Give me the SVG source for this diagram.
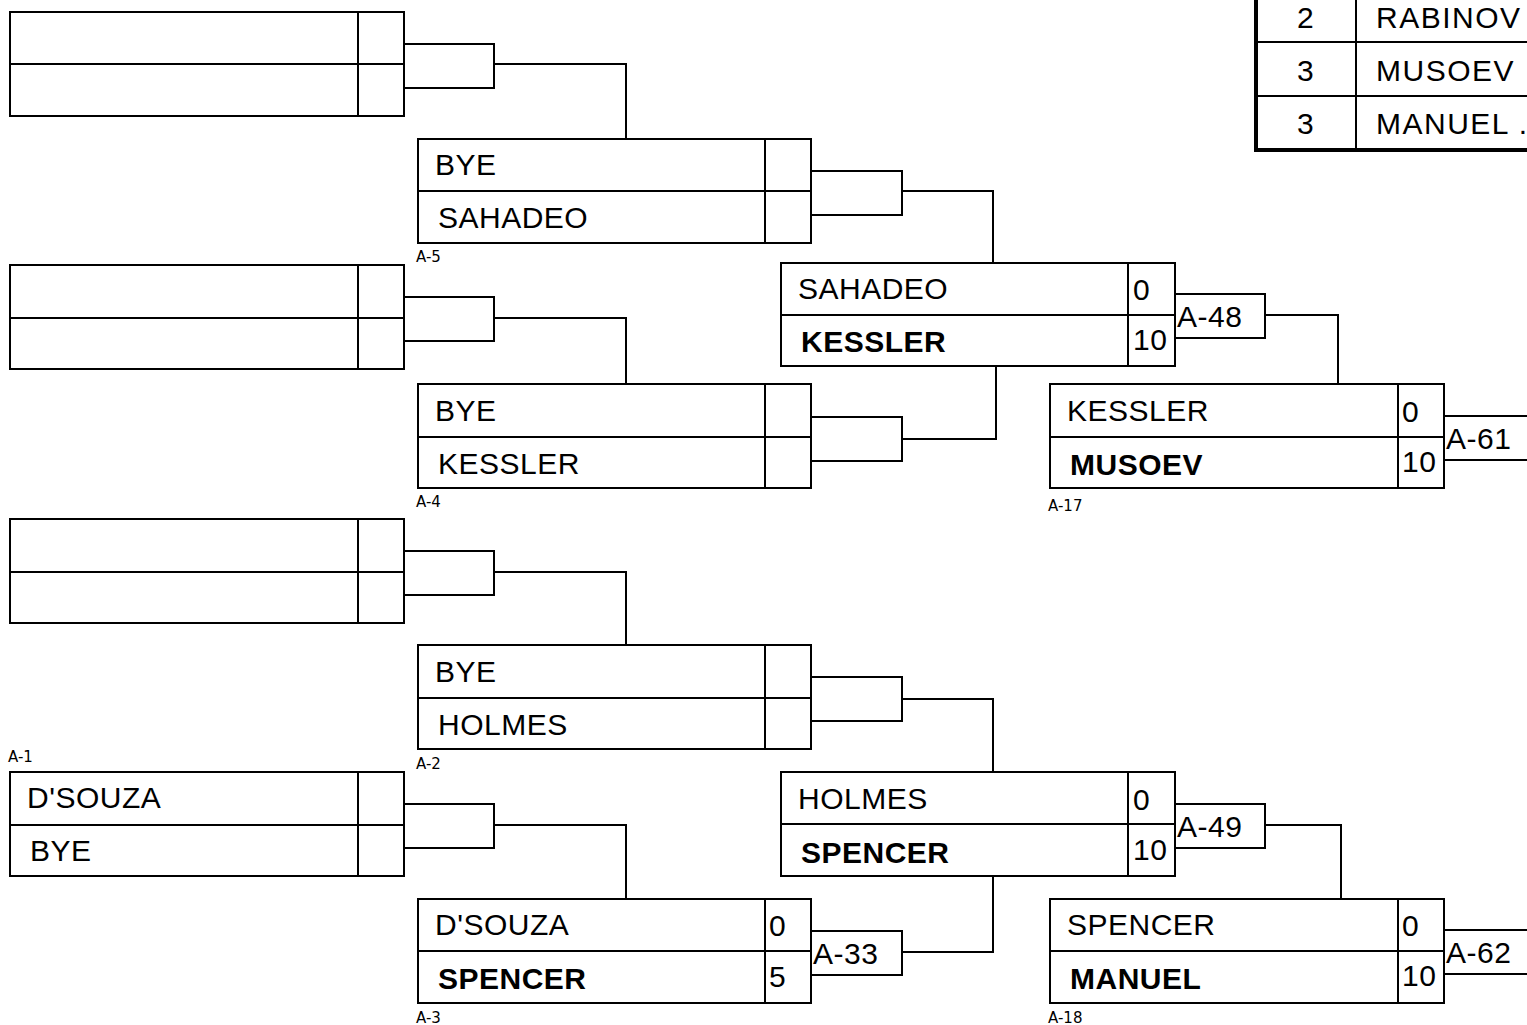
<svg xmlns="http://www.w3.org/2000/svg" width="1527" height="1025" viewBox="0 0 1527 1025">
<style>
.bx{fill:#fff;stroke:#000;stroke-width:2}
.ln{fill:none;stroke:#000;stroke-width:2}
.br{fill:#fff;stroke:#000;stroke-width:2}
.nm{font-family:"Liberation Sans",Arial,sans-serif;font-size:30px;letter-spacing:0.5px;fill:#000}
.b{font-weight:bold}
.sc{font-family:"Liberation Sans",Arial,sans-serif;font-size:30px;letter-spacing:0.5px;fill:#000}
.lb{font-family:"DejaVu Sans",sans-serif;font-size:15px;fill:#000}
.tb{font-family:"Liberation Sans",Arial,sans-serif;font-size:30px;letter-spacing:1.5px;fill:#000}
</style>
<rect width="1527" height="1025" fill="#fff"/>

<g id="connectors">
<path class="ln" d="M494,64 H626 V139"/>
<path class="ln" d="M494,318 H626 V384"/>
<path class="ln" d="M494,572 H626 V645"/>
<path class="ln" d="M494,825 H626 V899"/>
<path class="ln" d="M902,191 H993 V263"/>
<path class="ln" d="M902,439 H996 V366"/>
<path class="ln" d="M902,699 H993 V772"/>
<path class="ln" d="M902,952 H993 V876"/>
<path class="ln" d="M1265,315 H1338 V384"/>
<path class="ln" d="M1265,825 H1341 V899"/>
</g>

<g id="box-L1">
<rect class="bx" x="10" y="12" width="394" height="104"/>
<path class="ln" d="M358,12 V116 M10,64 H404"/>
<rect class="br" x="404" y="44" width="90" height="44"/>
</g>

<g id="box-L2">
<rect class="bx" x="10" y="265" width="394" height="104"/>
<path class="ln" d="M358,265 V369 M10,318 H404"/>
<rect class="br" x="404" y="297" width="90" height="44"/>
</g>

<g id="box-L3">
<rect class="bx" x="10" y="519" width="394" height="104"/>
<path class="ln" d="M358,519 V623 M10,572 H404"/>
<rect class="br" x="404" y="551" width="90" height="44"/>
</g>

<g id="match-A-1">
<rect class="bx" x="10" y="772" width="394" height="104"/>
<path class="ln" d="M358,772 V876 M10,825 H404"/>
<rect class="br" x="404" y="804" width="90" height="44"/>
<text class="nm" x="27" y="808">D'SOUZA</text>
<text class="nm" x="30" y="861">BYE</text>
<text class="lb" x="8" y="762">A-1</text>
</g>

<g id="match-A-5">
<rect class="bx" x="418" y="139" width="393" height="104"/>
<path class="ln" d="M765,139 V243 M418,191 H811"/>
<rect class="br" x="811" y="171" width="91" height="44"/>
<text class="nm" x="435" y="175">BYE</text>
<text class="nm" x="438" y="228">SAHADEO</text>
<text class="lb" x="416" y="262">A-5</text>
</g>

<g id="match-A-4">
<rect class="bx" x="418" y="384" width="393" height="104"/>
<path class="ln" d="M765,384 V488 M418,437 H811"/>
<rect class="br" x="811" y="417" width="91" height="44"/>
<text class="nm" x="435" y="421">BYE</text>
<text class="nm" x="438" y="474">KESSLER</text>
<text class="lb" x="416" y="507">A-4</text>
</g>

<g id="match-A-2">
<rect class="bx" x="418" y="645" width="393" height="104"/>
<path class="ln" d="M765,645 V749 M418,698 H811"/>
<rect class="br" x="811" y="677" width="91" height="44"/>
<text class="nm" x="435" y="682">BYE</text>
<text class="nm" x="438" y="735">HOLMES</text>
<text class="lb" x="416" y="769">A-2</text>
</g>

<g id="match-A-3">
<rect class="bx" x="418" y="899" width="393" height="104"/>
<path class="ln" d="M765,899 V1003 M418,951 H811"/>
<rect class="br" x="811" y="931" width="91" height="44"/>
<text class="nm" x="435" y="935">D'SOUZA</text>
<text class="nm b" x="438" y="989">SPENCER</text>
<text class="sc" x="769" y="936">0</text>
<text class="sc" x="769" y="987">5</text>
<text class="sc" x="813" y="964">A-33</text>
<text class="lb" x="416" y="1023">A-3</text>
</g>

<g id="match-A-48">
<rect class="bx" x="781" y="263" width="394" height="103"/>
<path class="ln" d="M1128,263 V366 M781,315 H1175"/>
<rect class="br" x="1175" y="294" width="90" height="44"/>
<text class="nm" x="798" y="299">SAHADEO</text>
<text class="nm b" x="801" y="352">KESSLER</text>
<text class="sc" x="1133" y="300">0</text>
<text class="sc" x="1133" y="350">10</text>
<text class="sc" x="1177" y="327">A-48</text>
</g>

<g id="match-A-49">
<rect class="bx" x="781" y="772" width="394" height="104"/>
<path class="ln" d="M1128,772 V876 M781,824 H1175"/>
<rect class="br" x="1175" y="804" width="90" height="44"/>
<text class="nm" x="798" y="809">HOLMES</text>
<text class="nm b" x="801" y="863">SPENCER</text>
<text class="sc" x="1133" y="810">0</text>
<text class="sc" x="1133" y="860">10</text>
<text class="sc" x="1177" y="837">A-49</text>
</g>

<g id="match-A-17">
<rect class="bx" x="1050" y="384" width="394" height="104"/>
<path class="ln" d="M1398,384 V488 M1050,437 H1444"/>
<rect class="br" x="1444" y="416" width="90" height="44"/>
<text class="nm" x="1067" y="421">KESSLER</text>
<text class="nm b" x="1070" y="475">MUSOEV</text>
<text class="sc" x="1402" y="422">0</text>
<text class="sc" x="1402" y="472">10</text>
<text class="sc" x="1446" y="449">A-61</text>
<text class="lb" x="1048" y="511">A-17</text>
</g>

<g id="match-A-18">
<rect class="bx" x="1050" y="899" width="394" height="104"/>
<path class="ln" d="M1398,899 V1003 M1050,951 H1444"/>
<rect class="br" x="1444" y="930" width="90" height="44"/>
<text class="nm" x="1067" y="935">SPENCER</text>
<text class="nm b" x="1070" y="989">MANUEL</text>
<text class="sc" x="1402" y="936">0</text>
<text class="sc" x="1402" y="986">10</text>
<text class="sc" x="1446" y="963">A-62</text>
<text class="lb" x="1048" y="1023">A-18</text>
</g>

<g id="standings">
<path class="ln" d="M1356,-2 V150 M1256,42 H1530 M1256,96 H1530"/>
<path fill="none" stroke="#000" stroke-width="4" d="M1256,-2 V150 H1530"/>
<text class="tb" x="1306" y="28" text-anchor="middle">2</text>
<text class="tb" x="1376" y="28">RABINOV</text>
<text class="tb" x="1306" y="81" text-anchor="middle">3</text>
<text class="tb" x="1376" y="81">MUSOEV</text>
<text class="tb" x="1306" y="134" text-anchor="middle">3</text>
<text class="tb" x="1376" y="134">MANUEL .</text>
</g>
</svg>
